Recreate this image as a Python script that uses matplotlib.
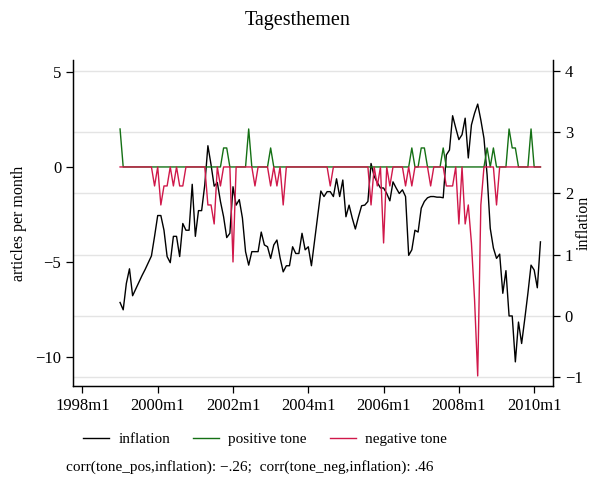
import matplotlib
matplotlib.use('Agg')
import matplotlib.pyplot as plt
import numpy as np

plt.rcParams['font.family'] = ['Liberation Serif', 'DejaVu Serif']
plt.rcParams['axes.unicode_minus'] = True

# monthly series, 1999m1 .. 2010m3
start_year = 1999
inflation = [0.22, 0.10, 0.53, 0.77, 0.33, 0.44, 0.55, 0.66, 0.76, 0.87,
             0.98, 1.30, 1.64, 1.64, 1.40, 0.97, 0.87, 1.30, 1.30, 0.97,
             1.51, 1.40, 1.40, 2.15, 1.30, 1.72, 1.72, 2.14, 2.78, 2.47,
             2.12, 2.18, 1.87, 1.62, 1.28, 1.35, 2.11, 1.81, 1.90, 1.60,
             1.05, 0.83, 1.05, 1.05, 1.05, 1.37, 1.16, 1.13, 0.94, 1.16,
             1.24, 0.95, 0.72, 0.82, 0.82, 1.13, 1.02, 1.02, 1.35, 1.08,
             1.13, 0.82, 1.23, 1.63, 2.04, 1.95, 2.03, 2.03, 1.95, 2.24,
             1.95, 2.22, 1.62, 1.81, 1.60, 1.42, 1.62, 1.80, 1.81, 1.87,
             2.49, 2.28, 2.18, 2.09, 2.09, 2.00, 1.88, 2.19, 2.09, 2.00,
             2.06, 1.95, 0.99, 1.08, 1.40, 1.37, 1.76, 1.87, 1.93, 1.95,
             1.95, 1.94, 1.94, 1.93, 2.63, 2.71, 3.27, 3.07, 2.88, 2.96,
             3.23, 2.58, 3.12, 3.31, 3.46, 3.20, 2.90, 2.30, 1.43, 1.11,
             0.94, 1.01, 0.37, 0.74, 0.00, 0.00, -0.75, -0.10, -0.45, -0.05,
             0.37, 0.83, 0.75, 0.46, 1.21]

# non-zero months (index from 1999m1) of the tone counts
pos_months = [0, 33, 34, 41, 48, 93, 96, 97, 103, 117, 119, 124, 125, 126, 131]
pos_counts = [2, 1, 1, 2, 1, 1, 1, 1, 1, 1, 1, 2, 1, 1, 2]
neg_months = [11, 13, 14, 15, 17, 19, 20, 28, 29, 30, 32, 36, 43, 48, 50, 52,
              67, 80, 82, 84, 86, 91, 93, 99, 104, 105, 106, 108, 110, 111,
              112, 113, 114, 115, 120]
neg_counts = [-1, -2, -1, -1, -1, -1, -1, -2, -2, -3, -1, -5, -1, -1, -1, -2,
              -1, -2, -1, -4, -1, -1, -1, -1, -1, -1, -1, -3, -3, -2,
              -4, -7, -11, -2, -2]

n = len(inflation)
tone_pos = np.zeros(n)
tone_pos[pos_months] = pos_counts
tone_neg = np.zeros(n)
tone_neg[neg_months] = neg_counts
t = start_year + np.arange(n) / 12.0

green = '#147014'
red = '#d0184a'

fig = plt.figure(figsize=(5.96, 4.79), dpi=100)
ax = fig.add_axes([73/596, 1-386/479, 480/596, 326/479])
ax2 = ax.twinx()
ax.set_zorder(ax2.get_zorder() + 1)
ax.patch.set_visible(False)

l1, = ax2.plot(t, inflation, color='black', lw=1.0, label='inflation')
l2, = ax.plot(t, tone_pos, color=green, lw=1.0, label='positive tone')
l3, = ax.plot(t, tone_neg, color=red, lw=1.0, label='negative tone')

ax.set_xlim(1997.75, 2010.5)
ax.set_ylim(-11.53, 5.63)
ax2.set_ylim(-1.144, 4.18)

xt = list(range(1998, 2011, 2))
ax.set_xticks(xt)
ax.set_xticklabels([f'{y}m1' for y in xt])
ax.set_yticks([-10, -5, 0, 5])
ax2.set_yticks([-1, 0, 1, 2, 3, 4])
ax2.yaxis.grid(True, color='#e4e4e4', lw=1.0)
ax2.set_axisbelow(True)

for a in (ax, ax2):
    a.spines['top'].set_visible(False)
    for s in ('left', 'right', 'bottom'):
        a.spines[s].set_linewidth(0.9)
    a.tick_params(labelsize=12, length=5, width=0.9, direction='out')

ax.set_ylabel('articles per month', fontsize=11.5)
ax.yaxis.set_label_coords((27-73)/480, 0.5)
ax2.set_ylabel('inflation', fontsize=11.5, rotation=90)
ax2.yaxis.set_label_coords((576-73)/480, 0.5)

fig.suptitle('Tagesthemen', fontsize=14.5, y=1-20/479, va='center')

fig.legend([l1, l2, l3], ['inflation', 'positive tone', 'negative tone'],
           loc='center', bbox_to_anchor=(265/596, 1-439/479), ncol=3,
           frameon=False, fontsize=11, handlelength=1.7, handletextpad=0.6,
           columnspacing=1.5)
fig.text(66/596, 1-467/479,
         'corr(tone_pos,inflation): \u2212.26;  corr(tone_neg,inflation): .46',
         fontsize=11, ha='left', va='center')

fig.savefig('out.png', dpi=100)
